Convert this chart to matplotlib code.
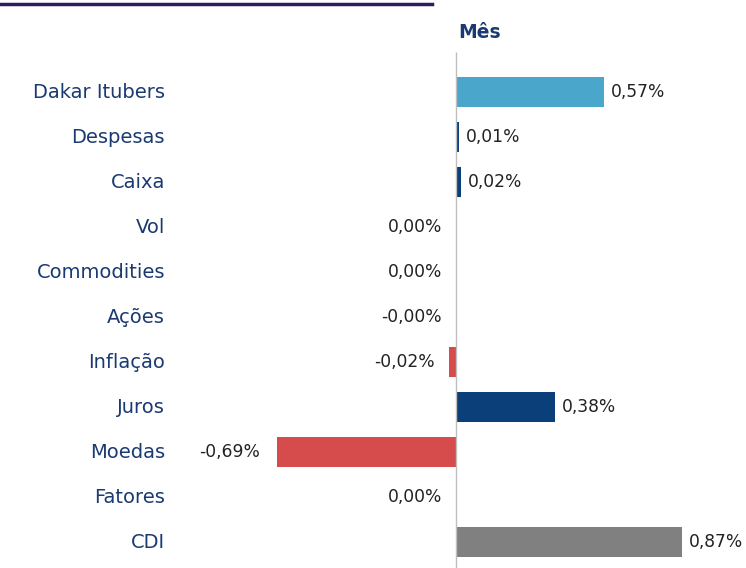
import matplotlib.pyplot as plt
from matplotlib.lines import Line2D

categories = ["Dakar Itubers", "Despesas", "Caixa", "Vol", "Commodities", "Ações",
              "Inflação", "Juros", "Moedas", "Fatores", "CDI"]
values = [0.57, 0.01, 0.02, 0.0, 0.0, -0.001, -0.026, 0.38, -0.69, 0.0, 0.87]
value_labels = ["0,57%", "0,01%", "0,02%", "0,00%", "0,00%", "-0,00%",
                "-0,02%", "0,38%", "-0,69%", "0,00%", "0,87%"]
bar_colors = ["#4BA6CB", "#0B3F7A", "#0B3F7A", "#0B3F7A", "#0B3F7A", "#D64B4B",
              "#D64B4B", "#0B3F7A", "#D64B4B", "#0B3F7A", "#808080"]

W, H = 746, 568
fig = plt.figure(figsize=(W / 100, H / 100), dpi=100)
ax = fig.add_axes([0, 0, 1, 1])

# pixel layout: zero at x=456, 260 px per 1%, rows at y=92+45*i
x0, scale = 456, 260
ax.set_xlim(-x0 / scale, (W - x0) / scale)
ax.set_ylim((H - 92) / 45, -92 / 45)
ax.axis("off")

pos = list(range(len(categories)))
ax.barh(pos, values, height=0.667, color=bar_colors)
ax.vlines(0, (52 - 92) / 45, (H - 92) / 45, color="#BFBFBF", lw=1)

trans = ax.get_yaxis_transform()
for i, (cat, v, lab) in enumerate(zip(categories, values, value_labels)):
    ax.text(165 / W, i + 0.02, cat, transform=trans, ha="right", va="center",
            fontsize=14, color="#1A3A72")
    if v > 0:
        ax.text(v + 7 / scale, i, lab, ha="left", va="center", fontsize=12.3, color="#222222")
    else:
        gap = 17 if v < -0.1 else 14
        ax.text(v - gap / scale, i, lab, ha="right", va="center", fontsize=12.3, color="#222222")

ax.text(458 / W, (32 - 92) / 45, "Mês", transform=trans, ha="left", va="center",
        fontsize=13.5, fontweight="bold", color="#1A3A72")

fig.add_artist(Line2D([0, 432 / W], [1 - 4 / H, 1 - 4 / H], color="#2B1F5C", lw=2.5))

fig.savefig("out.png", dpi=100)
